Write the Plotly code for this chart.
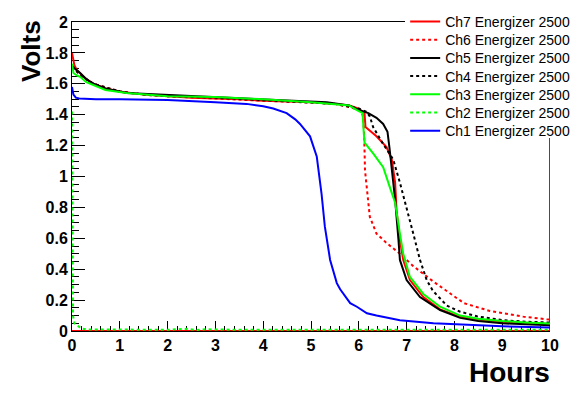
import plotly.graph_objects as go

# ---- data (hours, volts) ----
ch7_x = [0, 0.05, 0.1, 0.2, 0.3, 0.45, 0.7, 1.0, 1.5, 2.0, 2.5, 3.0, 3.5, 4.0, 4.5, 5.0, 5.5, 5.8, 6.0, 6.12, 6.14, 6.37, 6.58, 6.69, 6.76, 6.79, 6.86, 6.93, 7.07, 7.35, 7.7, 8.1, 8.5, 9.0, 9.5, 10.0]
ch7_y = [1.80, 1.72, 1.69, 1.66, 1.63, 1.60, 1.57, 1.55, 1.53, 1.52, 1.51, 1.505, 1.50, 1.49, 1.485, 1.48, 1.47, 1.46, 1.44, 1.41, 1.32, 1.26, 1.19, 1.11, 0.96, 0.78, 0.59, 0.46, 0.33, 0.22, 0.14, 0.095, 0.075, 0.06, 0.05, 0.045]

ch6_x = [0, 0.1, 0.2, 0.45, 1.0, 1.5, 2.0, 3.0, 4.0, 5.0, 5.5, 5.8, 6.0, 6.08, 6.11, 6.13, 6.17, 6.23, 6.37, 6.58, 6.86, 7.14, 7.56, 8.0, 8.2, 8.74, 9.44, 9.93, 10.0]
ch6_y = [1.71, 1.68, 1.65, 1.60, 1.55, 1.53, 1.52, 1.505, 1.49, 1.48, 1.47, 1.45, 1.43, 1.40, 1.30, 1.04, 0.93, 0.74, 0.63, 0.57, 0.50, 0.42, 0.32, 0.22, 0.18, 0.13, 0.093, 0.076, 0.075]

ch5_x = [0, 0.05, 0.17, 0.3, 0.45, 0.7, 1.14, 1.5, 1.84, 2.26, 3.0, 3.79, 4.5, 5.33, 5.8, 6.0, 6.2, 6.37, 6.51, 6.6, 6.64, 6.69, 6.76, 6.83, 6.86, 7.0, 7.28, 7.7, 8.12, 8.5, 9.0, 9.5, 10.0]
ch5_y = [1.72, 1.70, 1.67, 1.63, 1.60, 1.57, 1.54, 1.535, 1.53, 1.525, 1.51, 1.50, 1.49, 1.48, 1.46, 1.43, 1.41, 1.38, 1.34, 1.29, 1.19, 1.04, 0.85, 0.59, 0.46, 0.33, 0.22, 0.136, 0.085, 0.065, 0.05, 0.043, 0.038]

ch4_x = [0, 0.1, 0.2, 0.45, 1.0, 1.5, 2.0, 3.0, 4.0, 5.0, 5.5, 6.0, 6.15, 6.23, 6.3, 6.51, 6.72, 6.86, 7.0, 7.14, 7.28, 7.42, 7.55, 7.7, 7.84, 8.12, 8.47, 9.02, 9.5, 10.0]
ch4_y = [1.71, 1.68, 1.65, 1.60, 1.55, 1.53, 1.52, 1.51, 1.495, 1.48, 1.47, 1.44, 1.42, 1.39, 1.32, 1.21, 1.11, 0.96, 0.80, 0.63, 0.46, 0.33, 0.26, 0.21, 0.165, 0.125, 0.095, 0.07, 0.06, 0.055]

ch3_x = [0, 0.03, 0.1, 0.17, 0.3, 0.45, 0.7, 1.14, 1.5, 2.0, 3.0, 4.0, 5.0, 5.5, 5.8, 5.96, 6.08, 6.1, 6.12, 6.3, 6.51, 6.65, 6.76, 6.86, 6.93, 7.07, 7.35, 7.7, 8.12, 8.5, 9.0, 9.5, 10.0]
ch3_y = [1.73, 1.67, 1.655, 1.645, 1.61, 1.59, 1.56, 1.54, 1.53, 1.52, 1.515, 1.50, 1.48, 1.47, 1.46, 1.43, 1.41, 1.30, 1.22, 1.15, 1.06, 0.93, 0.83, 0.63, 0.50, 0.35, 0.24, 0.157, 0.10, 0.08, 0.065, 0.055, 0.048]

ch2_x = [0, 0.02, 0.05, 0.1, 0.19, 0.3, 1.0, 2.0, 2.4, 2.6, 2.8, 3.5, 5.0, 7.0, 9.0, 10.0]
ch2_y = [1.42, 0.10, 0.05, 0.04, 0.017, 0.01, 0.008, 0.008, 0.014, 0.006, 0.011, 0.008, 0.008, 0.008, 0.008, 0.008]

ch1_x = [0, 0.03, 0.08, 0.15, 0.5, 1.0, 2.0, 2.26, 3.0, 3.65, 4.0, 4.21, 4.49, 4.67, 4.77, 4.98, 5.12, 5.22, 5.29, 5.40, 5.54, 5.61, 5.82, 5.96, 6.17, 6.37, 6.72, 6.86, 7.56, 8.05, 9.0, 10.0]
ch1_y = [1.58, 1.53, 1.51, 1.505, 1.50, 1.50, 1.495, 1.49, 1.48, 1.47, 1.455, 1.44, 1.41, 1.37, 1.34, 1.26, 1.13, 0.89, 0.675, 0.46, 0.31, 0.27, 0.18, 0.157, 0.115, 0.10, 0.082, 0.07, 0.05, 0.043, 0.03, 0.022]

# red baseline / end marker drawn with Ch7 colour
edge_x = [0, 10, 10]
edge_y = [0, 0, 1.25]

names = ["Ch7 Energizer 2500", "Ch6 Energizer 2500", "Ch5 Energizer 2500",
         "Ch4 Energizer 2500", "Ch3 Energizer 2500", "Ch2 Energizer 2500",
         "Ch1 Energizer 2500"]

series = [
    (ch7_x, ch7_y, "#ff0000", "solid"),
    (ch6_x, ch6_y, "#ff0000", "dot"),
    (ch5_x, ch5_y, "#000000", "solid"),
    (ch4_x, ch4_y, "#000000", "dot"),
    (ch3_x, ch3_y, "#00ff00", "solid"),
    (ch2_x, ch2_y, "#00ff00", "dot"),
    (ch1_x, ch1_y, "#0000ff", "solid"),
]

fig = go.Figure()
fig.add_trace(go.Scatter(x=edge_x, y=edge_y, mode="lines", showlegend=False,
                         line=dict(color="#ff0000", width=2), cliponaxis=False,
                         hoverinfo="skip"))

legend_font = dict(family="Liberation Sans", size=14, color="black")
legend_layouts = {}
for i, (name, (xs, ys, col, dash)) in enumerate(zip(names, series)):
    key = "legend" if i == 0 else f"legend{i + 1}"
    fig.add_trace(go.Scatter(x=xs, y=ys, mode="lines", name=name,
                             line=dict(color=col, width=2, dash=dash),
                             cliponaxis=False, legend=key))
    # one legend per entry, stacked with ROOT-like row spacing
    yc = 19 + 18.2 * i          # entry centre in window pixels
    legend_layouts[key] = dict(
        x=0.697, y=(344.1 - yc) / 309, xanchor="left", yanchor="top",
        bgcolor="white" if i == 0 else "rgba(0,0,0,0)", borderwidth=0,
        font=legend_font)

tickfont = dict(family="Liberation Sans", size=16, color="black", weight="bold")

# page body has an 8px margin, so the figure is 8px smaller than the window
fig.update_layout(
    width=579, height=386,
    margin=dict(l=64, r=37, t=14, b=63, autoexpand=False),
    paper_bgcolor="white", plot_bgcolor="white",
    font=dict(family="Liberation Sans", color="black"),
    showlegend=True,
    xaxis=dict(range=[0, 10], dtick=1, tick0=0, ticks="inside", ticklen=10,
               tickwidth=1, tickcolor="black", showgrid=False, zeroline=False,
               showline=True, linecolor="black", linewidth=1, mirror=True,
               layer="below traces", tickfont=tickfont, automargin=False,
               minor=dict(dtick=0.2, ticks="inside", ticklen=5,
                          tickcolor="black", showgrid=False)),
    yaxis=dict(range=[0, 2], dtick=0.2, tick0=0, ticks="inside", ticklen=13,
               tickwidth=1, tickcolor="black", showgrid=False, zeroline=False,
               showline=True, linecolor="black", linewidth=1,
               layer="below traces", tickfont=tickfont, automargin=False,
               minor=dict(dtick=0.05, ticks="inside", ticklen=7,
                          tickcolor="black", showgrid=False)),
    annotations=[
        dict(text="Volts", xref="paper", yref="paper", x=-0.0858, y=0.906,
             showarrow=False, textangle=-90, xanchor="center", yanchor="middle",
             font=dict(family="Liberation Sans", size=26, weight="bold", color="black")),
        dict(text="Hours", xref="paper", yref="paper", x=0.916, y=-0.133,
             showarrow=False, xanchor="center", yanchor="middle",
             font=dict(family="Liberation Sans", size=28, weight="bold", color="black")),
    ],
)
fig.update_layout(**legend_layouts)

fig.write_html("out.html")
